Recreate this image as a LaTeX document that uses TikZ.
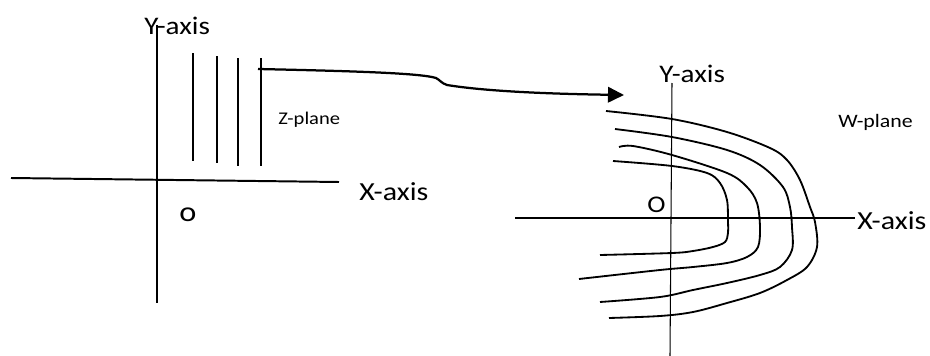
\documentclass[tikz,border=0pt]{standalone}
\usepackage{fontspec}
\setmainfont{Carlito}
\usepackage{graphicx}
\usetikzlibrary{arrows.meta,positioning}
\newcommand{\wider}[1]{\scalebox{1.15}[1]{#1}}

\begin{document}
\begin{tikzpicture}[
    x=0.025cm, y=-0.025cm,
    axis/.style={line width=1.4pt},
    thinaxis/.style={line width=0.75pt},
    zline/.style={line width=1.2pt},
    wcurve/.style={line width=1.3pt},
    axistxt/.style={inner sep=0pt, anchor=base west, font=\fontsize{18}{20}\selectfont},
    planetxt/.style={inner sep=0pt, anchor=base west, font=\fontsize{12.7}{14}\selectfont},
    map/.style={line width=1.6pt, -{Triangle[length=11.4pt, width=11pt]}}
]
\useasboundingbox (0,0) rectangle (930,356);

% === Z-PLANE (kiri) ===
\draw[axis] (11,178) -- (339,182);
\draw[axis] (157,25) -- (157,303);
\node (zy) [axistxt] at (144,34) {\wider{Y-axis}};
\node (zx) [axistxt, font=\fontsize{18.5}{20}\selectfont] at (359,200) {\wider{X-axis}};
\node (zo) [axistxt, font=\fontsize{20}{22}\selectfont] at (179,221) {\wider{o}};
\node (zplane) [planetxt] at (278,124) {\wider{Z-plane}};

% garis x = konstan
\foreach \x/\ya/\yb in {193/53/161, 217/56/163, 238/58/166, 261/58/166}
    \draw[zline] (\x,\ya) -- (\x,\yb);

% === PANAH PEMETAAN ===
\coordinate (start) at (258,69);
\coordinate (tip) at (624,95);
\draw[map] (start) .. controls (350,71) and (420,73) .. (436,78)
    .. controls (440,80) and (441,83) .. (447,85)
    .. controls (490,92) and (560,94) .. (tip);

% === W-PLANE (kanan) ===
\draw[thinaxis] (515,218) -- (855,218);
\draw[thinaxis] (672,83) -- (670,356);
\node (wy) [axistxt] at (659,82) {\wider{Y-axis}};
\node (wx) [axistxt, font=\fontsize{18.5}{20}\selectfont] at (857,229) {\wider{X-axis}};
\node (wo) [axistxt, font=\fontsize{17}{19}\selectfont] at (647,212) {\wider{O}};
\node (wplane) [planetxt, font=\fontsize{13.5}{15}\selectfont] at (838,127) {\wider{W-plane}};

% bayangan garis (kurva)
\draw[wcurve] plot[smooth, tension=0.55] coordinates {(606,111) (672,119) (727,132) (770,148) (787,160) (800,180) (810,207) (815,222) (817,247) (807,267) (787,280) (760,293) (727,303) (693,312) (660,316) (609,318)};
\draw[wcurve] plot[smooth, tension=0.55] coordinates {(615,129) (672,137) (727,150) (760,165) (783,187) (790,207) (792,227) (792,250) (780,267) (760,275) (727,283) (693,290) (660,297) (600,302)};
\draw[wcurve] plot[smooth, tension=0.55] coordinates {(619,147) (633,146) (672,155) (727,173) (747,187) (757,203) (760,227) (758,247) (747,257) (727,263) (693,267) (660,270) (579,279)};
\draw[wcurve] plot[smooth, tension=0.55] coordinates {(613,161) (672,166) (707,173) (720,183) (727,200) (728,222) (728,233) (725,242) (713,247) (693,251) (672,253) (600,255)};

\end{tikzpicture}
\end{document}
